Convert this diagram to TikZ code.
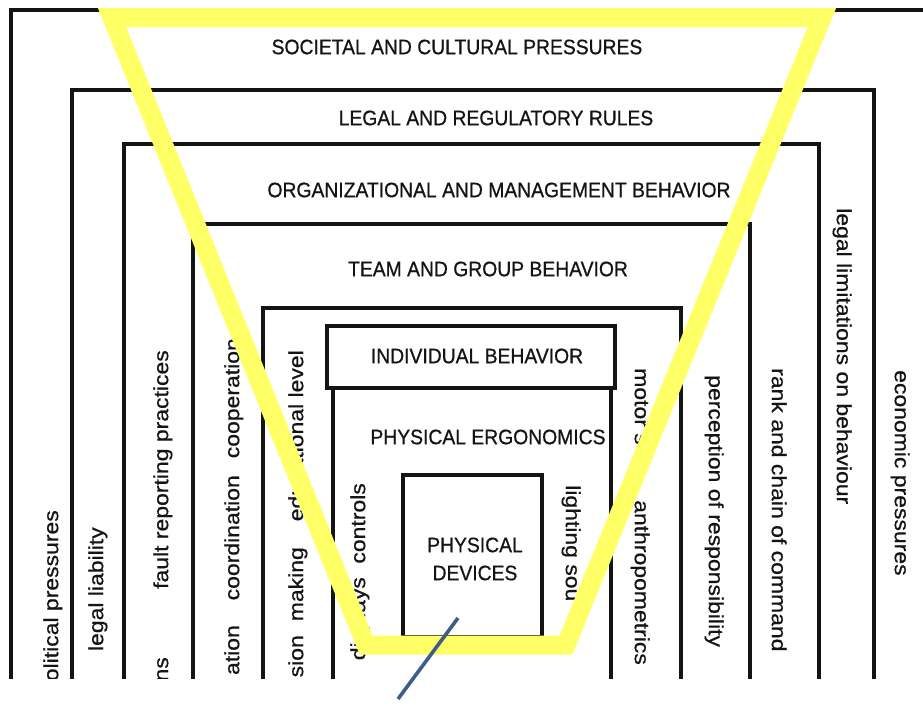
\documentclass[tikz,border=0pt]{standalone}
\usepackage{fontspec}
\newfontfamily\titlefont[FakeStretch=0.92,FakeBold=0.7]{Liberation Sans}
\newfontfamily\sidefont[FakeStretch=1.12,FakeBold=0.6]{Liberation Sans}
\definecolor{hiyellow}{RGB}{255,255,102}
\definecolor{pointerblue}{RGB}{62,94,138}
\definecolor{inkline}{RGB}{20,20,20}
\tikzset{
  boxline/.style={draw=inkline, line width=3.2pt},
  boldbox/.style={draw=inkline, line width=4.2pt},
  titletext/.style={font=\titlefont\fontsize{21}{21}\selectfont, inner sep=0pt, text=inkline},
  lside/.style={font=\sidefont\fontsize{20.5}{20.5}\selectfont, inner sep=0pt, rotate=90, anchor=mid east, text=inkline},
  rside/.style={font=\sidefont\fontsize{20.5}{20.5}\selectfont, inner sep=0pt, rotate=-90, anchor=mid west, text=inkline},
  funnel/.style={draw=hiyellow, line width=19pt, line join=miter},
  pointer/.style={draw=pointerblue, line width=3.6pt}
}
\begin{document}
\begin{tikzpicture}[x=1pt,y=-1pt]
\useasboundingbox (0,0) rectangle (923,705);
\fill[white] (0,0) rectangle (923,705);
\begin{scope}
\clip (0,0) rectangle (923,678);
% nested boxes
\draw[boxline] (11,10) rectangle (960,720);
\draw[boxline] (72,90) rectangle (874,720);
\draw[boxline] (124,144) rectangle (819,720);
\draw[boxline] (193,224) rectangle (750,720);
\draw[boxline] (263,308) rectangle (681,720);
\draw[boxline] (333,388) rectangle (611,720);
\draw[boldbox] (327,326) rectangle (615,388);
\draw[boxline] (403,475) rectangle (542,637);
% titles
\node[titletext] (soc) at (457,47) {SOCIETAL AND CULTURAL PRESSURES};
\node[titletext] (leg) at (496,118) {LEGAL AND REGULATORY RULES};
\node[titletext] (org) at (499,190) {ORGANIZATIONAL AND MANAGEMENT BEHAVIOR};
\node[titletext] (team) at (488,269) {TEAM AND GROUP BEHAVIOR};
\node[titletext] (ind) at (477,356) {INDIVIDUAL BEHAVIOR};
\node[titletext] (erg) at (488,437) {PHYSICAL ERGONOMICS};
\node[titletext, align=center] (dev) at (475,559) {PHYSICAL\\[7pt]DEVICES};
% left side labels (read bottom to top)
\node[lside] (l1) at (56,510) {olitical pressures};
\node[lside] (l2) at (101,527) {legal liability};
\node[lside] (l3) at (166,350) {fault reporting practices};
\node[lside] (l4) at (166,657) {ns};
\node[lside] (l5) at (237,338) {cooperation};
\node[lside] (l6) at (237,475) {coordination};
\node[lside] (l7) at (237,625) {ation};
\node[lside] (l8) at (301,350) {educational level};
\node[lside] (l9) at (301,547) {making};
\node[lside] (l10) at (301,635) {sion};
\node[lside] (l11) at (363,483) {controls};
\node[lside] (l12) at (363,577) {displays};
% right side labels (read top to bottom)
\node[rside] (r1) at (568,485) {lighting sou};
\node[rside] (r2) at (637,368) {motor s};
\node[rside] (r3) at (637,500) {anthropometrics};
\node[rside] (r4) at (711,375) {perception of responsibility};
\node[rside] (r5) at (774,368) {rank and chain of command};
\node[rside] (r6) at (839,208) {legal limitations on behaviour};
\node[rside] (r7) at (897,370) {economic pressures};
\end{scope}
% yellow funnel
\coordinate (f1) at (112,17.5);
\coordinate (f2) at (822,17.5);
\coordinate (f3) at (566,645);
\coordinate (f4) at (366,645);
\draw[funnel] (f1) -- (f2) -- (f3) -- (f4) -- cycle;
% pointer
\coordinate (p1) at (458,618);
\coordinate (p2) at (398,699);
\draw[pointer] (p1) -- (p2);
\end{tikzpicture}
\end{document}
